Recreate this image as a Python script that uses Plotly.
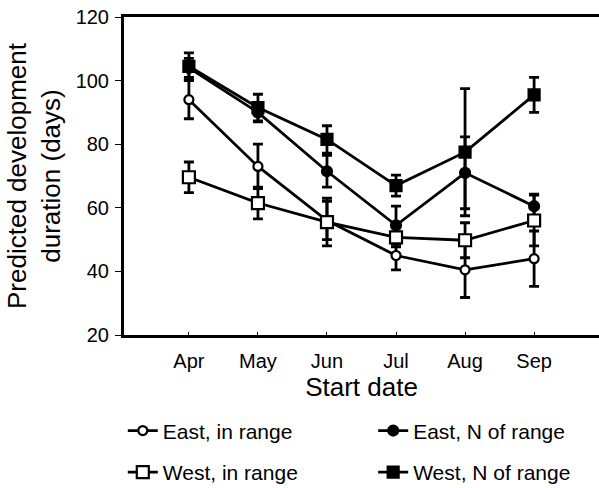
import plotly.graph_objects as go

months = ["Apr", "May", "Jun", "Jul", "Aug", "Sep"]
xpos = [0, 1, 2, 3, 4, 5]

east_in = [94, 73, 56, 45, 40.5, 44]
east_in_err = [6, 7, 6, 4.5, 8.7, 8.7]
east_n = [104, 90, 71.5, 54.5, 71, 60.5]
east_n_err = [3, 3, 5, 6, 11.3, 3.8]
west_in = [69.6, 61.5, 55.5, 50.7, 49.8, 56]
west_in_err = [4.8, 5, 7.5, 3, 5.5, 8]
west_n = [104.5, 91.5, 81.5, 67, 77.5, 95.5]
west_n_err = [4.2, 4.2, 4.3, 3.3, 20, 5.5]

FONT = "Liberation Sans, Arial, sans-serif"

series = [
    ("East, in range", east_in, east_in_err, "circle", "white", 9, "legend"),
    ("East, N of range", east_n, east_n_err, "circle", "black", 10, "legend2"),
    ("West, in range", west_in, west_in_err, "square", "white", 12, "legend3"),
    ("West, N of range", west_n, west_n_err, "square", "black", 11, "legend4"),
]

fig = go.Figure()
for name, y, err, sym, fill, size, leg in series:
    fig.add_trace(go.Scatter(
        x=xpos, y=y, name=name, mode="lines+markers",
        line=dict(color="black", width=2.8),
        marker=dict(symbol=sym, size=size, color=fill,
                    line=dict(color="black", width=2.2)),
        error_y=dict(type="data", array=err, visible=True,
                     color="black", thickness=2.8, width=5),
        legend=leg,
    ))

leg_font = dict(size=21, family=FONT, color="black")
def leg(x, y):
    return dict(orientation="h", xref="container", yref="container",
                x=x, xanchor="left", y=y, yanchor="middle",
                font=leg_font, bgcolor="rgba(0,0,0,0)")

fig.update_layout(
    width=599, height=488,
    margin=dict(l=124, r=0, t=17, b=153, autoexpand=False),
    plot_bgcolor="white", paper_bgcolor="white",
    font=dict(family=FONT, color="black"),
    showlegend=True,
    legend=leg(0.205, 0.117),
    legend2=leg(0.623, 0.117),
    legend3=leg(0.205, 0.032),
    legend4=leg(0.623, 0.032),
)

fig.update_xaxes(
    range=[-0.94, 5.94], tickvals=xpos, ticktext=months,
    showline=True, linecolor="black", linewidth=3, mirror=True,
    ticks="inside", ticklen=3, tickwidth=1, tickcolor="black",
    showgrid=False, zeroline=False,
    tickfont=dict(size=20, family=FONT), ticklabelstandoff=6,
    title=dict(text="Start date", font=dict(size=26, family=FONT), standoff=6),
)
fig.update_yaxes(
    range=[20, 120], tickvals=[20, 40, 60, 80, 100, 120],
    showline=True, linecolor="black", linewidth=3,
    ticks="outside", ticklen=6, tickwidth=1, tickcolor="black",
    showgrid=False, zeroline=False,
    tickfont=dict(size=20, family=FONT), ticklabelstandoff=2,
    title=dict(text="Predicted development<br>duration (days)",
               font=dict(size=26, family=FONT), standoff=8),
)

fig.write_html("out.html")
